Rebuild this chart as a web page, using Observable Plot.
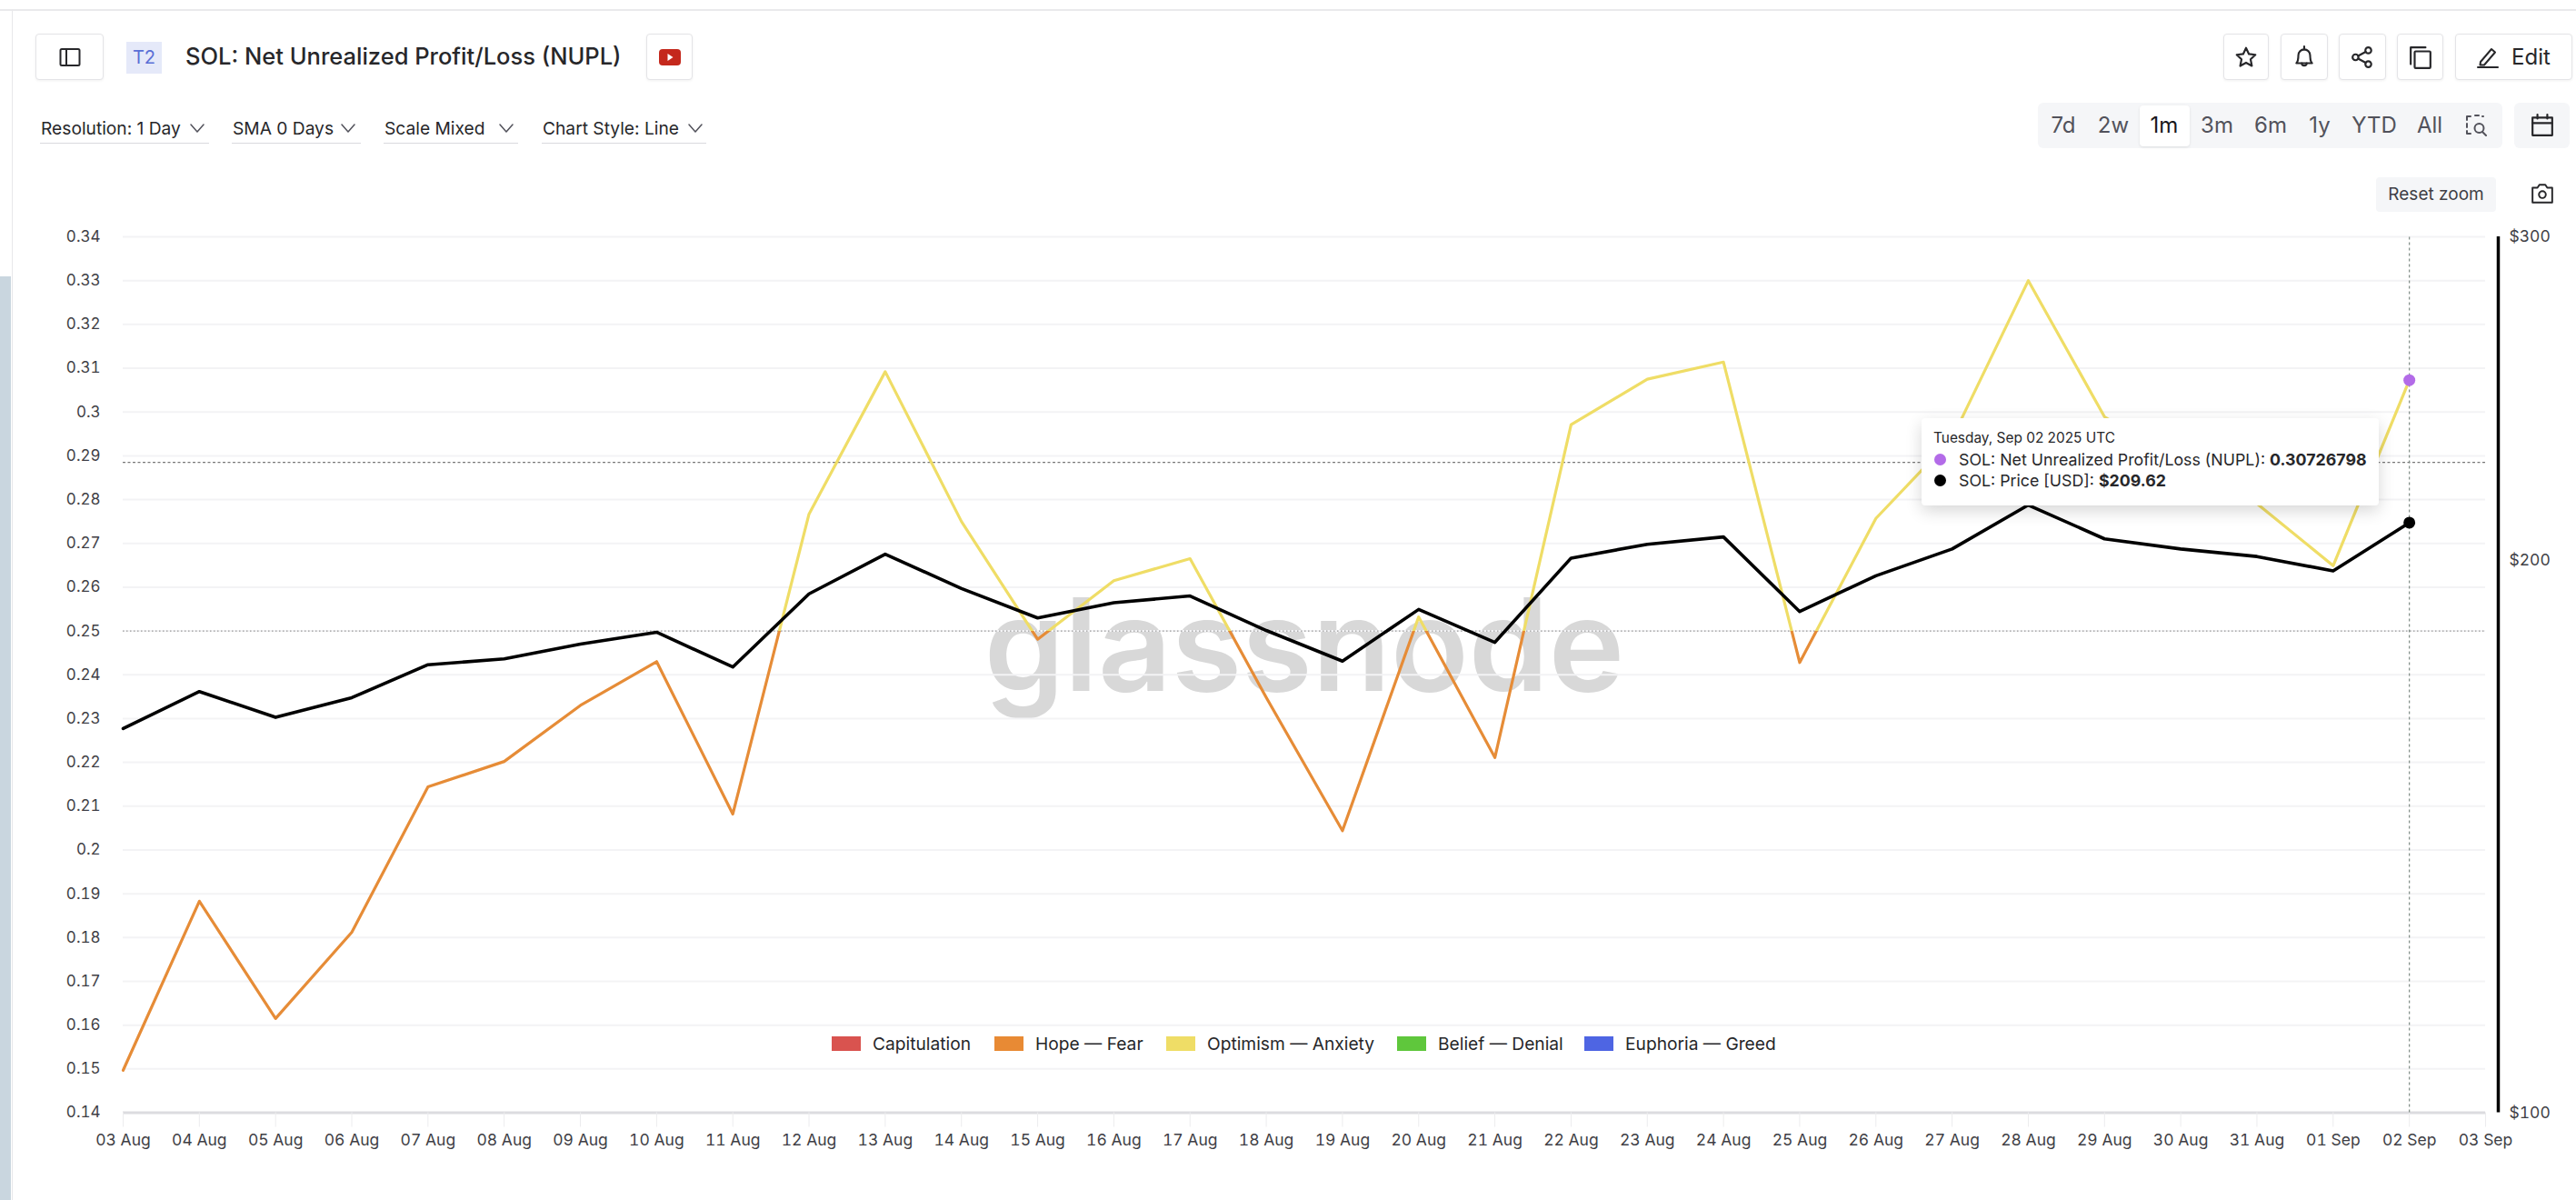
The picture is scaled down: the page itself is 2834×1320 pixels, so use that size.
<!DOCTYPE html>
<html>
<head>
<meta charset="utf-8">
<script src="https://cdn.jsdelivr.net/npm/d3@7"></script>
<script src="https://cdn.jsdelivr.net/npm/@observablehq/plot@0.6"></script>
<style>
html,body{margin:0;padding:0;background:#fff;}
body{width:2834px;height:1320px;position:relative;overflow:hidden;font-family:Inter,"Noto Sans",sans-serif;color:#27272a;}
.abs{position:absolute;box-sizing:border-box;}
.btn{border:1px solid #e4e4e7;border-radius:4px;background:#fff;box-shadow:0 1px 3px rgba(0,0,0,.06);display:flex;align-items:center;justify-content:center;}
.ctl{font-size:19.2px;line-height:24px;white-space:nowrap;color:#27272a;}
.rule{height:1px;background:#d9d9de;}
.range{font-size:24px;line-height:30px;color:#52525b;transform:translateX(-50%);white-space:nowrap;}
.lg{font-size:19.2px;line-height:24px;white-space:nowrap;color:#27272a;}
svg.icon{fill:none;stroke:#27272a;stroke-width:2;stroke-linecap:round;stroke-linejoin:round;}
#tip{left:2114px;top:460px;width:503px;height:96px;background:#fff;border-radius:4px;box-shadow:0 6px 18px rgba(0,0,0,.16);z-index:3;}
#tip div{position:absolute;white-space:nowrap;color:#27272a;}
#chart{position:absolute;left:0;top:200px;}
</style>
</head>
<body>
<script>
const dates = ["2025-08-03","2025-08-04","2025-08-05","2025-08-06","2025-08-07","2025-08-08","2025-08-09","2025-08-10","2025-08-11","2025-08-12","2025-08-13","2025-08-14","2025-08-15","2025-08-16","2025-08-17","2025-08-18","2025-08-19","2025-08-20","2025-08-21","2025-08-22","2025-08-23","2025-08-24","2025-08-25","2025-08-26","2025-08-27","2025-08-28","2025-08-29","2025-08-30","2025-08-31","2025-09-01","2025-09-02"];
const nupl = [0.1497,0.1883,0.1615,0.1812,0.2144,0.2202,0.2330,0.2430,0.2082,0.2767,0.3092,0.2750,0.2481,0.2615,0.2665,0.2348,0.2044,0.2532,0.2211,0.2971,0.3075,0.3114,0.2428,0.2757,0.2940,0.3300,0.2989,0.2885,0.2791,0.2649,0.30726798];
const price = [161.9,169.6,164.2,168.3,175.4,176.7,180.0,182.7,174.9,191.7,201.5,193.0,186.0,189.6,191.2,183.1,176.2,188.0,180.4,200.5,204.0,205.9,187.5,196.1,202.8,214.3,205.4,202.8,200.9,197.3,209.62];
const xTicks = [...dates,"2025-09-03"];
const yTicks = [0.14,0.15,0.16,0.17,0.18,0.19,0.2,0.21,0.22,0.23,0.24,0.25,0.26,0.27,0.28,0.29,0.3,0.31,0.32,0.33,0.34];
const priceTicks = [100,200,300];
const legendNames = ["Capitulation","Hope — Fear","Optimism — Anxiety","Belief — Denial","Euphoria — Greed"];
const legendColors = ["#d9534f","#e88a34","#efdd66","#5fc73c","#4e65e3"];
const threshold = 0.25;
const crosshairValue = 0.2885;

const d = s => new Date(s+"T00:00:00Z");
const rows = dates.map((s,i)=>({date:d(s),nupl:nupl[i],price:price[i]}));
const last = rows[rows.length-1];
const priceToY = d3.scaleLog().domain([100,300]).range([0.14,0.34]);

function clipSide(id, side){
  return function(index, scales, values, dims, context, next){
    const g = next(index, scales, values, dims, context);
    const yT = scales.y(threshold);
    const sel = d3.select(g);
    sel.append("clipPath").attr("id",id).append("rect")
      .attr("x",0).attr("width",dims.width)
      .attr("y",side==="above"?0:yT)
      .attr("height",side==="above"?yT:dims.height-yT);
    sel.attr("clip-path",`url(#${id})`);
    return g;
  };
}

const chart = Plot.plot({
  width:2834, height:1100,
  marginLeft:135, marginRight:100, marginTop:60, marginBottom:76.5,
  x:{type:"utc",domain:[d("2025-08-03"),d("2025-09-03")]},
  y:{domain:[0.14,0.34]},
  style:{fontFamily:"Inter, sans-serif",fontSize:"17.5px",color:"#3f3f46",background:"transparent"},
  marks:[
    Plot.text(["glassnode"],{frameAnchor:"middle",dy:-27,fontSize:141,fontWeight:600,fill:"#d8d8d8",fontFamily:"Inter, sans-serif",letterSpacing:"-2px"}),
    Plot.gridY(yTicks,{stroke:"#f3f3f5",strokeOpacity:1,strokeWidth:2}),
    Plot.ruleY([threshold],{stroke:"#9a9a9a",strokeDasharray:"1.5 2.5",strokeWidth:1.2}),
    Plot.ruleY([crosshairValue],{stroke:"#777",strokeDasharray:"3 2.5",strokeWidth:1.2}),
    Plot.ruleY([0.14],{stroke:"#dcdcdf",strokeWidth:3}),
    Plot.axisX(xTicks.map(d),{anchor:"bottom",tickSize:16,tickPadding:8,stroke:"#ececee",tickFormat:d3.utcFormat("%d %b"),label:null,fill:"#3f3f46"}),
    Plot.axisY(yTicks,{anchor:"left",tickSize:0,tickPadding:25,fontSize:17,tickFormat:v=>String(v),label:null,fill:"#3f3f46"}),
    Plot.axisY(priceTicks.map(p=>priceToY(p)),{anchor:"right",tickSize:0,tickPadding:26,tickFormat:v=>"$"+Math.round(priceToY.invert(v)),label:null,fill:"#3f3f46"}),
    Plot.ruleX([d("2025-09-03")],{y1:0.14,y2:0.34,dx:14,stroke:"#000",strokeWidth:3.5}),
    Plot.line(rows,{x:"date",y:"nupl",stroke:"#e68c37",strokeWidth:3.2,render:clipSide("clip-below","below")}),
    Plot.line(rows,{x:"date",y:"nupl",stroke:"#efdd66",strokeWidth:3.2,render:clipSide("clip-above","above")}),
    Plot.line(rows,{x:"date",y:r=>priceToY(r.price),stroke:"#000",strokeWidth:3.6}),
    Plot.ruleX([last.date],{y1:0.14,y2:0.34,stroke:"#7d8a84",strokeDasharray:"3 3",strokeWidth:1.2}),
    Plot.dot([last],{x:"date",y:"nupl",r:6.5,fill:"#b36be8"}),
    Plot.dot([last],{x:"date",y:r=>priceToY(r.price),r:6.5,fill:"#000"})
  ]
});
chart.id="chart";
document.body.appendChild(chart);

function el(cls,style,html){const e=document.createElement("div");e.className=cls;e.style.cssText=style;if(html!==undefined)e.innerHTML=html;document.body.appendChild(e);return e;}

// page frame
el("abs","left:0;top:10px;width:2834px;height:2px;background:#eaeaec;");
el("abs","left:13px;top:10px;width:1px;height:1310px;background:#e8e8ea;");
el("abs","left:0;top:304px;width:12px;height:1016px;background:#c9d6df;");

// header left
el("abs btn","left:39px;top:37px;width:75px;height:51px;",'<svg class="icon" width="24" height="24" viewBox="0 0 24 24"><rect x="1.5" y="3" width="21" height="18" rx="1.5"/><line x1="8" y1="3" x2="8" y2="21"/></svg>');
el("abs","left:139px;top:46px;width:39px;height:35px;background:#e5e9f9;color:#5a6fd6;font-size:20px;line-height:35px;text-align:center;","T2");
el("abs","left:204px;top:44px;font-size:25.5px;line-height:36px;font-weight:500;white-space:nowrap;color:#27272a;","SOL: Net Unrealized Profit/Loss (NUPL)");
el("abs btn","left:711px;top:37px;width:51px;height:51px;",'<svg width="24" height="18" viewBox="0 0 24 18"><rect width="24" height="18" rx="4" fill="#c4281c"/><path d="M9.5 5l6 4-6 4z" fill="#fff"/></svg>');

// controls
const chevron='<svg class="icon" style="stroke:#52525b;stroke-width:1.5" width="16" height="10" viewBox="0 0 16 10"><path d="M1 1l7 8 7-8"/></svg>';
[["Resolution: 1 Day",45,209,230],["SMA 0 Days",256,375,397],["Scale Mixed",423,549,570],["Chart Style: Line",597,757,777]].forEach(([t,x,cx,ex])=>{
  el("abs ctl",`left:${x}px;top:129px;`,t);
  el("abs",`left:${cx}px;top:136px;line-height:0;`,chevron);
  el("abs rule",`left:${x-1}px;top:157px;width:${ex-x+1}px;`);
});

// header right
const icons={
 star:'<svg class="icon" width="26" height="26" viewBox="0 0 24 24"><path d="M12 2.5l2.9 6.2 6.6.8-4.9 4.6 1.3 6.7L12 17.5l-5.9 3.3 1.3-6.7L2.5 9.5l6.6-.8z"/></svg>',
 bell:'<svg class="icon" width="26" height="28" viewBox="0 0 24 26"><path d="M4 19c2-2 2-4 2-8a6 6 0 0 1 12 0c0 4 0 6 2 8z"/><path d="M12 2v3M9.5 19a2.5 2.5 0 0 0 5 0"/></svg>',
 share:'<svg class="icon" width="26" height="26" viewBox="0 0 24 24"><circle cx="5" cy="12" r="3"/><circle cx="18" cy="5" r="3"/><circle cx="18" cy="19" r="3"/><path d="M7.7 10.6l7.6-4.2M7.7 13.4l7.6 4.2"/></svg>',
 copy:'<svg class="icon" width="26" height="26" viewBox="0 0 24 24"><path d="M2 19V2h15"/><rect x="6" y="6" width="16" height="17" rx="1"/></svg>'
};
[["star",2446,50],["bell",2509,52],["share",2573,52],["copy",2637,51]].forEach(([k,x,w])=>el("abs btn",`left:${x}px;top:37px;width:${w}px;height:51px;`,icons[k]));
el("abs btn","left:2701px;top:37px;width:129px;height:51px;gap:14px;font-size:24px;",'<svg class="icon" width="24" height="24" viewBox="0 0 24 24"><path d="M4 17L16 3l4 3.5L8 20.5l-4.5 0z"/><path d="M1 23h22"/></svg><span>Edit</span>');

// range selector
el("abs","left:2242px;top:113px;width:511px;height:50px;background:#f5f6f8;border-radius:6px;");
el("abs","left:2354px;top:116px;width:55px;height:45px;background:#fff;border-radius:4px;box-shadow:0 1px 3px rgba(0,0,0,.1);");
[["7d",2270],["2w",2325],["1m",2381],["3m",2439],["6m",2498],["1y",2552],["YTD",2612],["All",2673]].forEach(([t,x])=>el("abs range",`left:${x}px;top:123px;${t==="1m"?"color:#18181b;":""}`,t));
el("abs","left:2713px;top:126px;line-height:0;",'<svg class="icon" style="stroke:#52525b" width="24" height="24" viewBox="0 0 24 24"><path d="M1 6V2h4M10 1h4M19 2h-1M1 10v4M1 18v3h4"/><circle cx="14.5" cy="15" r="5"/><path d="M18 19l4 4"/></svg>');
el("abs","left:2766px;top:113px;width:61px;height:50px;background:#f5f6f8;border-radius:6px;display:flex;align-items:center;justify-content:center;",'<svg class="icon" width="26" height="26" viewBox="0 0 24 24"><rect x="2" y="4" width="20" height="18"/><path d="M2 9.5h20M7 1v4M17 1v4"/></svg>');

// reset zoom
el("abs","left:2614px;top:195px;width:132px;height:38px;background:#f5f6f8;border-radius:4px;font-size:19px;line-height:38px;text-align:center;color:#3f3f46;","Reset zoom");
el("abs","left:2784px;top:200px;line-height:0;",'<svg class="icon" style="stroke-width:1.8" width="26" height="26" viewBox="0 0 24 24"><path d="M2 6h5l2-3h6l2 3h5v15H2z"/><circle cx="12" cy="13" r="3.5"/></svg>');

// legend
[915,1094,1283,1537,1743].forEach((x,i)=>{
  el("abs",`left:${x}px;top:1140px;width:32px;height:16px;background:${legendColors[i]};`);
  el("abs lg",`left:${x+45}px;top:1136px;`,legendNames[i]);
});

// tooltip
el("abs","", "").id="tip";
const tip=document.getElementById("tip");
tip.innerHTML=`
<div style="left:13px;top:11px;font-size:15.4px;line-height:22px;">Tuesday, Sep 02 2025 UTC</div>
<div style="left:14px;top:39px;width:13px;height:13px;border-radius:50%;background:#b36be8;"></div>
<div style="left:41px;top:35px;font-size:17.8px;line-height:22px;">SOL: Net Unrealized Profit/Loss (NUPL): <b style="font-weight:700">0.30726798</b></div>
<div style="left:14px;top:62px;width:13px;height:13px;border-radius:50%;background:#000;"></div>
<div style="left:41px;top:58px;font-size:17.8px;line-height:22px;">SOL: Price [USD]: <b style="font-weight:700">$209.62</b></div>`;
</script>
</body>
</html>
